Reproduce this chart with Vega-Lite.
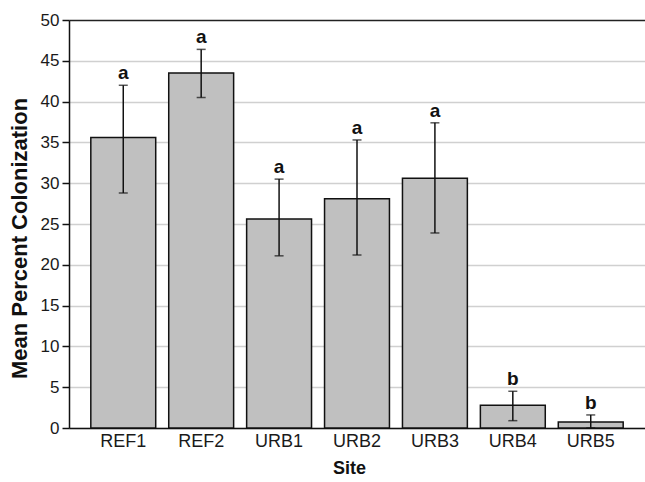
{
  "$schema": "https://vega.github.io/schema/vega-lite/v6.json",
  "autosize": {"type": "none"},
  "width": 576,
  "height": 408,
  "padding": {"left": 69, "top": 20, "right": 0, "bottom": 54},
  "background": "white",
  "config": {
    "view": {"stroke": null},
    "font": "Liberation Sans",
    "axis": {"labelFont": "Liberation Sans", "titleFont": "Liberation Sans", "labelColor": "#1a1a1a", "titleColor": "#111"}
  },
  "data": {
    "values": [
      {"site": "REF1", "mean": 35.6, "lo": 28.8, "hi": 42.0, "group": "a"},
      {"site": "REF2", "mean": 43.5, "lo": 40.5, "hi": 46.4, "group": "a"},
      {"site": "URB1", "mean": 25.6, "lo": 21.1, "hi": 30.5, "group": "a"},
      {"site": "URB2", "mean": 28.1, "lo": 21.2, "hi": 35.3, "group": "a"},
      {"site": "URB3", "mean": 30.6, "lo": 23.9, "hi": 37.4, "group": "a"},
      {"site": "URB4", "mean": 2.8, "lo": 0.9, "hi": 4.5, "group": "b"},
      {"site": "URB5", "mean": 0.75, "lo": 0.0, "hi": 1.6, "group": "b"}
    ]
  },
  "encoding": {
    "x": {
      "field": "site", "type": "nominal", "sort": null,
      "scale": {"paddingInner": 0.167, "paddingOuter": 0.28},
      "axis": {
        "title": "Site", "titleFontSize": 18, "titleFontWeight": "bold", "titlePadding": 9, "titleX": 280,
        "labelFontSize": 18, "labelAngle": 0, "labelPadding": 4,
        "ticks": false, "domainColor": "#111", "domainWidth": 1.5, "grid": false
      }
    }
  },
  "layer": [
    {
      "mark": {"type": "bar", "fill": "#c0c0c0", "stroke": "#111", "strokeWidth": 1.5},
      "encoding": {
        "y": {
          "field": "mean", "type": "quantitative",
          "scale": {"domain": [0, 50], "nice": false},
          "axis": {
            "title": "Mean Percent Colonization", "titleFontSize": 22, "titleFontWeight": "bold",
            "titleX": -50, "titleY": 218, "titleBaseline": "middle",
            "values": [0, 5, 10, 15, 20, 25, 30, 35, 40, 45, 50],
            "labelFontSize": 17, "labelPadding": 3, "tickSize": 7, "tickColor": "#111", "tickWidth": 1.5,
            "domainColor": "#111", "domainWidth": 1.5,
            "grid": true,
            "gridColor": {"condition": {"test": "datum.value === 50", "value": "#222"}, "value": "#d0d0d0"},
            "gridWidth": 1.5
          }
        }
      }
    },
    {
      "mark": {"type": "rule", "color": "#111", "strokeWidth": 1.5},
      "encoding": {
        "y": {"field": "lo", "type": "quantitative"},
        "y2": {"field": "hi"}
      }
    },
    {
      "mark": {"type": "tick", "color": "#111", "size": 9, "thickness": 1.5},
      "encoding": {"y": {"field": "lo", "type": "quantitative"}}
    },
    {
      "mark": {"type": "tick", "color": "#111", "size": 9, "thickness": 1.5},
      "encoding": {"y": {"field": "hi", "type": "quantitative"}}
    },
    {
      "mark": {"type": "text", "fontSize": 19, "fontWeight": "bold", "color": "#111", "baseline": "bottom", "dy": -2, "font": "Liberation Sans"},
      "encoding": {
        "y": {"field": "hi", "type": "quantitative"},
        "text": {"field": "group"}
      }
    }
  ]
}
